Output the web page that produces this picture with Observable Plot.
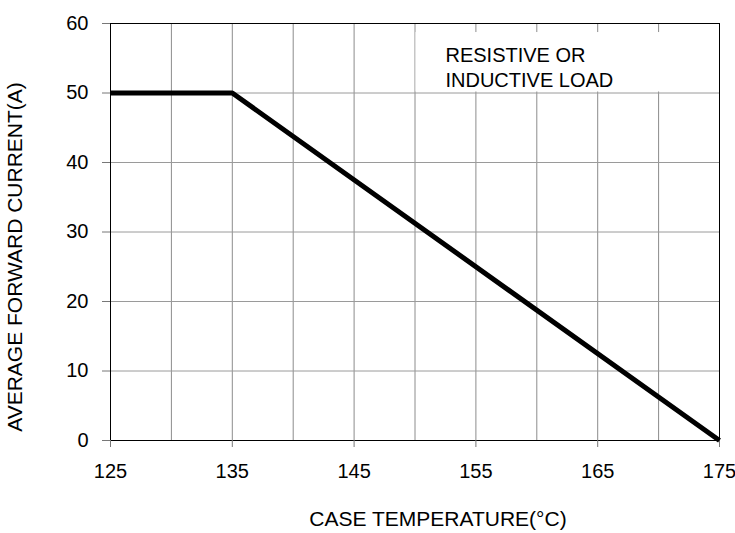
<!DOCTYPE html>
<html>
<head>
<meta charset="utf-8">
<script src="https://cdn.jsdelivr.net/npm/d3@7"></script>
<script src="https://cdn.jsdelivr.net/npm/@observablehq/plot@0.6"></script>
<style>
  html, body { margin: 0; padding: 0; background: #fff; }
  svg { display: block; }
</style>
</head>
<body>
<div id="chart"></div>
<script>
// Data
const caseTemp = [125, 135, 175];
const forwardCurrent = [50, 50, 0];

const xTickLabels = [125, 135, 145, 155, 165, 175];
const yTickLabels = [0, 10, 20, 30, 40, 50, 60];
const xGridLines = [125, 130, 135, 140, 145, 150, 155, 160, 165, 170, 175];
const yGridLines = [0, 10, 20, 30, 40, 50, 60];

const xTitle = "CASE TEMPERATURE(\u00B0C)";
const yTitle = "AVERAGE FORWARD CURRENT(A)";
const noteLines = ["RESISTIVE OR", "INDUCTIVE LOAD"];

const curve = caseTemp.map((t, i) => ({t, a: forwardCurrent[i]}));

const font = "'Liberation Sans', Arial, Helvetica, sans-serif";

const chart = Plot.plot({
  width: 735,
  height: 533,
  marginLeft: 110,
  marginRight: 16,
  marginTop: 23,
  marginBottom: 93,
  style: {fontFamily: font, background: "#fff", color: "#000"},
  x: {domain: [125, 175]},
  y: {domain: [0, 60]},
  marks: [
    // vertical grid
    Plot.ruleX(xGridLines, {x: d => d, y1: 0, y2: 60, stroke: "#8c8c8c", strokeWidth: 1}),
    // white box behind the note
    Plot.rect([0], {x1: 150, x2: 175, y1: 50, y2: 58.7, fill: "#fff", insetLeft: 1, insetRight: 1, insetBottom: 1}),
    // horizontal grid
    Plot.ruleY(yGridLines, {y: d => d, stroke: "#9a9a9a", strokeWidth: 1}),
    // frame
    Plot.frame({stroke: "#000", strokeWidth: 1}),
    Plot.ruleX([125], {stroke: "#000"}),
    Plot.ruleY([0], {stroke: "#000"}),
    // axes
    Plot.axisX(xTickLabels, {
      tickSize: 7, tickPadding: 16, fontSize: 20, stroke: "#777", fill: "#000", label: null
    }),
    Plot.axisY(yTickLabels, {
      tickSize: 8, tickPadding: 14, fontSize: 20, stroke: "#777", fill: "#000", label: null
    }),
    // derating curve
    Plot.line(curve, {x: "t", y: "a", stroke: "#000", strokeWidth: 5, strokeLinejoin: "miter", strokeLinecap: "butt"}),
    // note
    Plot.text([noteLines.join("\n")], {
      x: 152.5, y: 57.0, text: d => d, textAnchor: "start", lineAnchor: "top",
      lineHeight: 1.25, fontSize: 20, fill: "#000"
    }),
    // axis titles
    Plot.text([xTitle], {
      frameAnchor: "bottom", text: d => d, dx: 23, dy: 79, fontSize: 21,
      textAnchor: "middle", lineAnchor: "middle", fill: "#000"
    }),
    Plot.text([yTitle], {
      frameAnchor: "left", text: d => d, dx: -95, dy: 25, rotate: -90, fontSize: 21,
      textAnchor: "middle", lineAnchor: "middle", fill: "#000"
    })
  ]
});

document.getElementById("chart").appendChild(chart);
</script>
</body>
</html>
